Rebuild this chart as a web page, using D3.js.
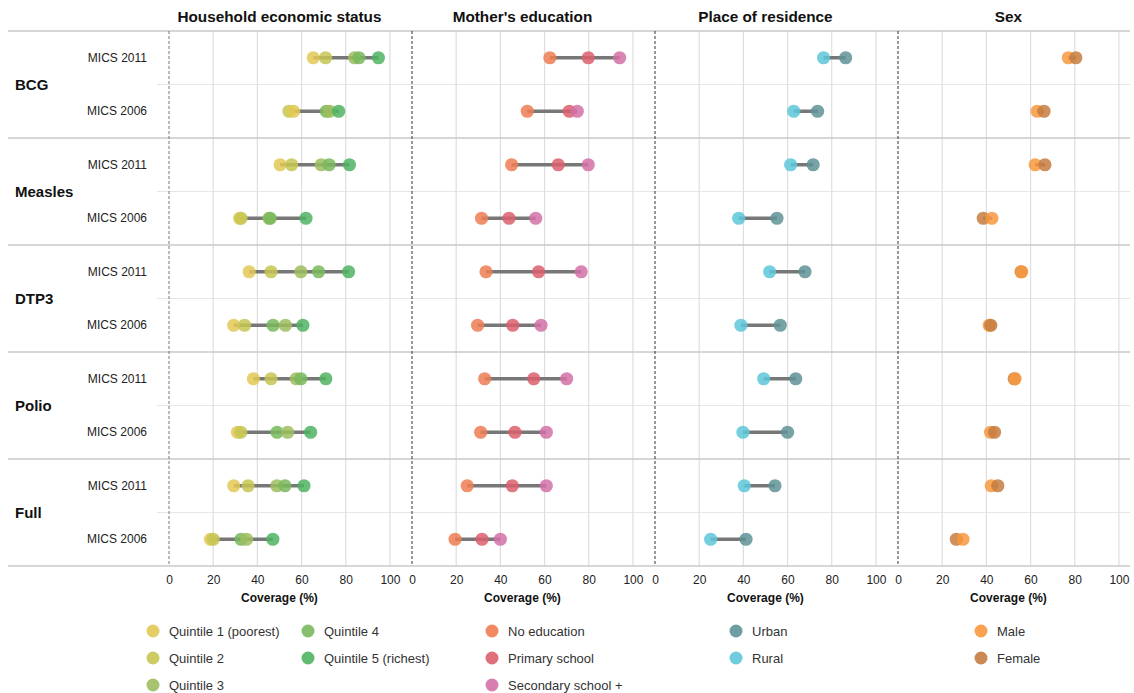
<!DOCTYPE html>
<html>
<head>
<meta charset="utf-8">
<script src="https://cdn.jsdelivr.net/npm/d3@7"></script>
<style>
  html, body { margin: 0; padding: 0; background: #fff; }
  svg { display: block; font-family: "Liberation Sans", Arial, Helvetica, sans-serif; }
</style>
</head>
<body>
<svg id="chart" width="1134" height="693"></svg>
<script>
// ---------- DATA ----------
const vaccines = ["BCG", "Measles", "DTP3", "Polio", "Full"];
const surveys = ["MICS 2011", "MICS 2006"];
const dimensions = ["Household economic status", "Mother's education", "Place of residence", "Sex"];
const xTicks = [0, 20, 40, 60, 80, 100];
const axisTitle = "Coverage (%)";

const wealthGroups = ["Quintile 1 (poorest)", "Quintile 2", "Quintile 3", "Quintile 4", "Quintile 5 (richest)"];
const wealthColors = ["#e3c955", "#c6c752", "#9dbd5e", "#79b85d", "#4fb462"];
// rows: BCG 2011, BCG 2006, Measles 2011, Measles 2006, DTP3 2011, DTP3 2006, Polio 2011, Polio 2006, Full 2011, Full 2006
const wealthValues = [
  [65.3, 70.9, 84.0, 86.0, 94.8],
  [56.4, 54.3, 72.7, 71.2, 76.8],
  [50.3, 55.5, 68.9, 72.5, 81.7],
  [32.0, 32.6, 45.3, 45.8, 62.0],
  [36.3, 46.2, 59.7, 67.7, 81.3],
  [29.3, 34.2, 52.7, 47.1, 60.6],
  [38.2, 46.2, 57.6, 59.7, 71.0],
  [31.0, 32.5, 53.7, 48.9, 64.1],
  [29.3, 35.8, 48.8, 52.5, 61.1],
  [18.8, 20.0, 35.1, 32.6, 47.0]
];

const educationGroups = ["No education", "Primary school", "Secondary school +"];
const educationColors = ["#ef7c52", "#dc5f6c", "#d471a8"];
const educationValues = [
  [62.4, 79.8, 94.0],
  [52.2, 71.2, 74.8],
  [45.1, 66.2, 79.8],
  [31.5, 43.9, 56.0],
  [33.5, 57.3, 76.6],
  [29.7, 45.6, 58.4],
  [32.9, 55.1, 70.0],
  [31.1, 46.6, 60.8],
  [25.0, 45.4, 60.8],
  [19.5, 31.7, 40.0]
];

const residenceGroups = ["Urban", "Rural"];
const residenceColors = ["#5f9297", "#5ec7d9"];
const residenceValues = [
  [86.3, 76.3],
  [73.6, 62.8],
  [71.6, 61.4],
  [55.2, 37.9],
  [67.9, 51.9],
  [56.7, 38.9],
  [63.7, 49.2],
  [60.0, 39.8],
  [54.3, 40.4],
  [41.2, 25.2]
];

const sexGroups = ["Male", "Female"];
const sexColors = ["#f8993e", "#c67c40"];
const sexValues = [
  [77.1, 80.5],
  [63.0, 66.1],
  [62.1, 66.5],
  [42.5, 38.6],
  [56.0, 55.7],
  [41.3, 42.0],
  [53.0, 52.6],
  [41.9, 43.7],
  [42.2, 45.2],
  [29.4, 26.4]
];

const panels = [
  { name: dimensions[0], groups: wealthGroups, colors: wealthColors, values: wealthValues },
  { name: dimensions[1], groups: educationGroups, colors: educationColors, values: educationValues },
  { name: dimensions[2], groups: residenceGroups, colors: residenceColors, values: residenceValues },
  { name: dimensions[3], groups: sexGroups, colors: sexColors, values: sexValues }
];

// ---------- LAYOUT ----------
const svg = d3.select("#chart");
const topY = 31, bottomY = 566;
const firstPanelLeft = 169, panelWidth = 243;
const rightEdge = 1130;
const dotR = 6.6;

const rowKeys = [];
vaccines.forEach(v => surveys.forEach(s => rowKeys.push(v + "|" + s)));
const yRow = d3.scaleBand().domain(rowKeys).range([topY, bottomY]).padding(0);
const yGroup = d3.scaleBand().domain(vaccines).range([topY, bottomY]).padding(0);

const panelLeft = d3.scaleBand().domain(dimensions)
  .range([firstPanelLeft, firstPanelLeft + panelWidth * dimensions.length]).padding(0);

// horizontal lines: subrow separators (light)
const g = svg.append("g");
vaccines.forEach(v => {
  const ym = yGroup(v) + yGroup.bandwidth() / 2;
  g.append("line").attr("x1", 157).attr("x2", rightEdge)
    .attr("y1", ym).attr("y2", ym)
    .attr("stroke", "#e6e6e6").attr("stroke-width", 1.2);
});

// vertical grid per panel
panels.forEach(p => {
  const x0 = panelLeft(p.name);
  p.x = d3.scaleLinear().domain([0, 110]).range([x0, x0 + panelWidth]);
  xTicks.filter(t => t > 0).forEach(t => {
    g.append("line").attr("x1", p.x(t)).attr("x2", p.x(t))
      .attr("y1", topY).attr("y2", bottomY)
      .attr("stroke", "#dedede").attr("stroke-width", 1.2);
  });
});

// group separators (darker)
const groupLines = vaccines.map(v => yGroup(v)).concat([bottomY]);
groupLines.forEach(y => {
  g.append("line").attr("x1", 8).attr("x2", rightEdge)
    .attr("y1", y).attr("y2", y)
    .attr("stroke", "#c8c8c8").attr("stroke-width", 1.4);
});

// dashed zero lines
panels.forEach((p, i) => {
  g.append("line").attr("x1", p.x(0)).attr("x2", p.x(0))
    .attr("y1", topY).attr("y2", bottomY)
    .attr("stroke", i === 0 ? "#777" : "#333").attr("stroke-width", 1)
    .attr("stroke-dasharray", "3,2");
});

// panel titles
panels.forEach(p => {
  svg.append("text").attr("x", (p.x(0) + p.x(100)) / 2).attr("y", 22)
    .attr("text-anchor", "middle").attr("font-size", 15.3).attr("font-weight", "bold")
    .attr("fill", "#111").text(p.name);
});

// row labels
vaccines.forEach(v => {
  svg.append("text").attr("x", 15).attr("y", yGroup(v) + yGroup.bandwidth() / 2 + 5)
    .attr("font-size", 15).attr("font-weight", "bold").attr("fill", "#111").text(v);
  surveys.forEach(s => {
    const k = v + "|" + s;
    svg.append("text").attr("x", 147).attr("y", yRow(k) + yRow.bandwidth() / 2 + 4)
      .attr("text-anchor", "end").attr("font-size", 12).attr("fill", "#222").text(s);
  });
});

// axes
panels.forEach(p => {
  const ax = svg.append("g").attr("transform", `translate(0,${bottomY + 3})`)
    .call(d3.axisBottom(p.x).tickValues(xTicks).tickSize(0).tickPadding(6));
  ax.select(".domain").remove();
  ax.selectAll("text").attr("font-size", 12).attr("fill", "#222")
    .attr("font-family", "Liberation Sans, Arial, sans-serif");
  svg.append("text").attr("x", (p.x(0) + p.x(100)) / 2).attr("y", 602)
    .attr("text-anchor", "middle").attr("font-size", 12).attr("font-weight", "bold")
    .attr("fill", "#111").text(axisTitle);
});

// marks
panels.forEach(p => {
  const pg = svg.append("g");
  p.values.forEach((vals, ri) => {
    const cy = yRow(rowKeys[ri]) + yRow.bandwidth() / 2;
    const [mn, mx] = d3.extent(vals);
    pg.append("line").attr("x1", p.x(mn)).attr("x2", p.x(mx))
      .attr("y1", cy).attr("y2", cy)
      .attr("stroke", "#777").attr("stroke-width", 3.5);
    const pts = vals.map((v, gi) => ({ v, gi })).sort((a, b) => a.v - b.v);
    pg.selectAll(null).data(pts).enter()
      .append("circle")
      .attr("cx", d => p.x(d.v)).attr("cy", cy).attr("r", dotR)
      .attr("fill", d => p.colors[d.gi]).attr("fill-opacity", 0.85);
  });
});

// legends
const legendRows = [631, 658, 685];
const legendCols = [
  { panel: 0, items: [0, 1, 2], cx: 153 },
  { panel: 0, items: [3, 4], cx: 308 },
  { panel: 1, items: [0, 1, 2], cx: 492 },
  { panel: 2, items: [0, 1], cx: 736 },
  { panel: 3, items: [0, 1], cx: 981 }
];
legendCols.forEach(c => {
  const p = panels[c.panel];
  c.items.forEach((gi, k) => {
    const y = legendRows[k];
    svg.append("circle").attr("cx", c.cx).attr("cy", y).attr("r", 6.5)
      .attr("fill", p.colors[gi]).attr("fill-opacity", 0.9);
    svg.append("text").attr("x", c.cx + 16).attr("y", y + 4.5)
      .attr("font-size", 13).attr("fill", "#333").text(p.groups[gi]);
  });
});
</script>
</body>
</html>
